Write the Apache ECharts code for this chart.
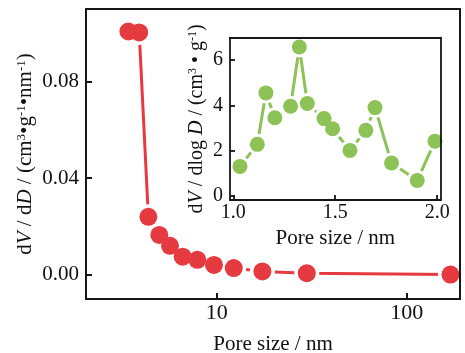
<!DOCTYPE html>
<html>
<head>
<meta charset="utf-8">
<script src="https://cdn.jsdelivr.net/npm/echarts@6/dist/echarts.min.js"></script>
<style>
html,body{margin:0;padding:0;background:#fff;}
#c{width:465px;height:353px;}
</style>
</head>
<body>
<div id="c"></div>
<script>
// Main chart: pore size (nm, log scale) vs dV/dD
const mainPoreSize = [3.43, 3.91, 4.37, 4.99, 5.68, 6.62, 7.91, 9.68, 12.3, 17.4, 29.8, 170];
const mainDvDd = [0.1007, 0.1003, 0.0240, 0.0165, 0.0120, 0.0075, 0.0062, 0.0041, 0.0028, 0.0014, 0.0007, 0.0001];
const mainXTicks = [10, 100];
const mainYTicks = [0.00, 0.04, 0.08];

// Inset: pore size (nm) vs dV/dlogD
const insetPoreSize = [1.033, 1.118, 1.160, 1.204, 1.281, 1.324, 1.363, 1.445, 1.487, 1.572, 1.650, 1.695, 1.776, 1.902, 1.989];
const insetDvDlogD = [1.29, 2.27, 4.55, 3.45, 3.96, 6.59, 4.08, 3.41, 2.96, 2.00, 2.89, 3.90, 1.44, 0.67, 2.41];
const insetXTicks = [1.0, 1.5, 2.0];
const insetYTicks = [0, 2, 4, 6];

const FONT = '"Liberation Serif", "Times New Roman", serif';
const AXC = '#161616';
const RED = '#e53a3f';
const GREEN = '#8dc257';

const mainPts = mainPoreSize.map((x, i) => [x, mainDvDd[i]]);
const insetPts = insetPoreSize.map((x, i) => [x, insetDvDlogD[i]]);

function richStyles(size) {
  return {
    n: {fontFamily: FONT, fontSize: size, color: '#111'},
    i: {fontFamily: FONT, fontSize: size, color: '#111', fontStyle: 'italic'},
    s: {fontFamily: FONT, fontSize: Math.round(size * 0.6), color: '#111', verticalAlign: 'top'}
  };
}

function boxAxis(gridIndex, position, type, min, max, extra) {
  return Object.assign({
    gridIndex, position, type, min, max, z: 10,
    axisLine: {show: true, onZero: false, lineStyle: {color: AXC, width: 2}},
    axisTick: {show: false}, axisLabel: {show: false}, splitLine: {show: false}, minorTick: {show: false}
  }, extra || {});
}

const chart = echarts.init(document.getElementById('c'), null, {renderer: 'canvas'});
chart.setOption({
  backgroundColor: '#ffffff',
  animation: false,
  grid: [
    {left: 86, top: 9, right: 5, bottom: 54, outerBoundsMode: 'none', containLabel: false},
    {left: 230, top: 37.7, right: 24.3, bottom: 153, outerBoundsMode: 'none', containLabel: false}
  ],
  xAxis: [
    boxAxis(0, 'bottom', 'log', 2.052, 190.8, {
      logBase: 10,
      axisTick: {show: true, inside: true, length: 6, customValues: mainXTicks, lineStyle: {color: AXC, width: 2}},
      axisLabel: {show: true, customValues: mainXTicks, margin: 3, fontFamily: FONT, fontSize: 22, color: '#111'},
      name: 'Pore size / nm', nameLocation: 'middle', nameGap: 35, nameMoveOverlap: false,
      nameTextStyle: {fontFamily: FONT, fontSize: 21, color: '#111', verticalAlign: 'top'}
    }),
    boxAxis(0, 'top', 'log', 2.052, 190.8, {logBase: 10}),
    boxAxis(1, 'bottom', 'value', 0.984, 2.017, {
      axisLine: {show: true, onZero: false, lineStyle: {color: AXC, width: 1.8}},
      axisTick: {show: true, inside: true, length: 5, customValues: insetXTicks, lineStyle: {color: AXC, width: 1.8}},
      axisLabel: {show: true, customValues: insetXTicks, margin: 3, fontFamily: FONT, fontSize: 20, color: '#111',
        formatter: v => Number(v).toFixed(1)},
      name: 'Pore size / nm', nameLocation: 'middle', nameGap: 27.5, nameMoveOverlap: false,
      nameTextStyle: {fontFamily: FONT, fontSize: 21, color: '#111', verticalAlign: 'top'}
    }),
    boxAxis(1, 'top', 'value', 0.984, 2.017, {axisLine: {show: true, onZero: false, lineStyle: {color: AXC, width: 1.8}}})
  ],
  yAxis: [
    boxAxis(0, 'left', 'value', -0.01, 0.11, {
      axisTick: {show: true, inside: true, length: 6, customValues: mainYTicks, lineStyle: {color: AXC, width: 2}},
      axisLabel: {show: true, customValues: mainYTicks, margin: 7, fontFamily: FONT, fontSize: 21, color: '#111',
        formatter: v => Number(v).toFixed(2)},
      name: '{n|d}{i|V}{n| / d}{i|D}{n| / (cm}{s|3}{n|•g}{s|-1}{n|•nm}{s|-1}{n|)}',
      nameLocation: 'middle', nameGap: 50, nameMoveOverlap: false,
      nameTextStyle: {rich: richStyles(21)}
    }),
    boxAxis(0, 'right', 'value', -0.01, 0.11),
    boxAxis(1, 'left', 'value', -0.2, 7.0, {
      axisLine: {show: true, onZero: false, lineStyle: {color: AXC, width: 1.8}},
      axisTick: {show: true, inside: true, length: 5, customValues: insetYTicks, lineStyle: {color: AXC, width: 1.8}},
      axisLabel: {show: true, customValues: insetYTicks, margin: 7, fontFamily: FONT, fontSize: 20, color: '#111'},
      name: '{n|d}{i|V}{n| / dlog }{i|D}{n| / (cm}{s|3}{n| • g}{s|-1}{n|)}',
      nameLocation: 'middle', nameGap: 23, nameMoveOverlap: false,
      nameTextStyle: {rich: richStyles(20)}
    }),
    boxAxis(1, 'right', 'value', -0.2, 7.0, {axisLine: {show: true, onZero: false, lineStyle: {color: AXC, width: 1.8}}})
  ],
  series: [
    {type: 'line', xAxisIndex: 0, yAxisIndex: 0, data: mainPts, showSymbol: false, symbol: 'none',
      lineStyle: {color: RED, width: 3}, z: 2, clip: false},
    {type: 'scatter', xAxisIndex: 0, yAxisIndex: 0, data: mainPts, symbolSize: 25,
      itemStyle: {color: '#ffffff', opacity: 1}, z: 3, clip: false, silent: true},
    {type: 'scatter', xAxisIndex: 0, yAxisIndex: 0, data: mainPts, symbolSize: 18,
      itemStyle: {color: RED, opacity: 1}, z: 4, clip: false},
    {type: 'line', xAxisIndex: 2, yAxisIndex: 2, data: insetPts, showSymbol: false, symbol: 'none',
      lineStyle: {color: GREEN, width: 3}, z: 5, clip: false},
    {type: 'scatter', xAxisIndex: 2, yAxisIndex: 2, data: insetPts, symbolSize: 21,
      itemStyle: {color: '#ffffff', opacity: 1}, z: 6, clip: false, silent: true},
    {type: 'scatter', xAxisIndex: 2, yAxisIndex: 2, data: insetPts, symbolSize: 15,
      itemStyle: {color: GREEN, opacity: 1}, z: 7, clip: false}
  ]
});
</script>
</body>
</html>
